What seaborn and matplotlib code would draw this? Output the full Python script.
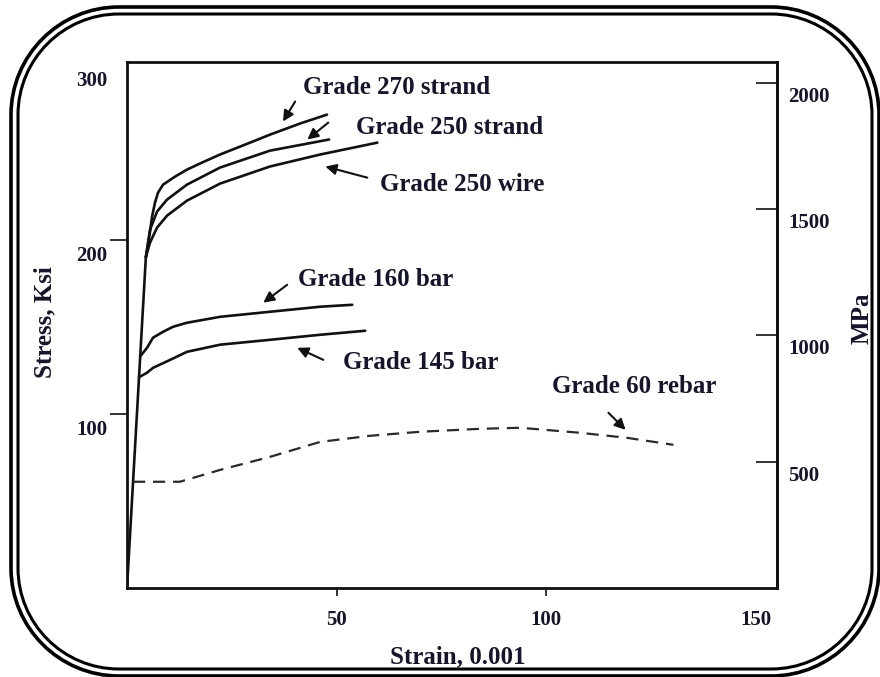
import matplotlib
matplotlib.use("Agg")
import matplotlib.pyplot as plt
from matplotlib.patches import PathPatch
from matplotlib.path import Path
from matplotlib.transforms import ScaledTranslation
import pandas as pd
import seaborn as sns

# Strain in units of 0.001, stress in ksi
elastic_strain = [0.0, 4.5]
elastic_stress = [0.0, 190.0]

g270_strand_strain = [4.5, 5.49, 5.97, 6.68, 7.4, 8.6, 11.46, 14.3, 17.4, 22.2, 28.2, 34.1, 41.3, 47.7]
g270_strand_stress = [190.0, 204.6, 213.2, 221.3, 227.0, 231.6, 236.2, 240.2, 243.7, 248.9, 254.6, 260.3, 266.7, 271.8]

g250_strand_strain = [4.5, 5.49, 7.16, 9.55, 14.3, 22.2, 34.1, 48.2]
g250_strand_stress = [190.0, 205.7, 216.1, 223.0, 231.6, 241.4, 251.1, 257.5]

g250_wire_strain = [4.5, 5.49, 7.16, 9.55, 14.3, 22.2, 34.1, 46.1, 59.7]
g250_wire_stress = [190.0, 198.3, 206.9, 213.8, 222.4, 232.2, 242.0, 248.9, 255.7]

g160_bar_strain = [3.15, 4.77, 6.2, 8.6, 11.0, 14.3, 22.2, 34.1, 46.1, 53.7]
g160_bar_stress = [133.0, 137.9, 143.7, 147.1, 150.0, 152.3, 155.7, 158.6, 161.5, 162.6]

g145_bar_strain = [2.86, 4.77, 6.2, 10.3, 14.3, 22.2, 34.1, 46.1, 56.8]
g145_bar_stress = [121.0, 123.6, 126.4, 131.0, 135.6, 139.7, 142.5, 145.4, 147.7]

g60_rebar_strain = [1.43, 12.6, 22.2, 34.1, 46.1, 58.0, 69.9, 84.2, 93.8, 108.1, 119.3, 130.3]
g60_rebar_stress = [61.0, 61.0, 67.8, 75.3, 83.9, 87.4, 89.7, 91.4, 92.0, 89.1, 86.2, 82.2]

x_ticks = [50, 100, 150]
ksi_ticks = [100, 200, 300]
mpa_ticks = [500, 1000, 1500, 2000]
MPA_PER_KSI = 6.895

# label text, text anchor (left, centre), arrow tail, arrow head
annotations = [
    ("Grade 270 strand", (42.0, 287.4), (40.1, 279.3), (37.2, 267.8)),
    ("Grade 250 strand", (54.7, 264.4), (48.0, 267.2), (43.0, 257.5)),
    ("Grade 250 wire", (60.4, 231.6), (57.3, 235.6), (47.3, 242.0)),
    ("Grade 160 bar", (40.8, 177.0), (38.2, 174.1), (32.5, 163.8)),
    ("Grade 145 bar", (51.6, 129.3), (46.8, 131.0), (40.6, 137.9)),
    ("Grade 60 rebar", (101.4, 115.5), (114.8, 100.6), (118.9, 90.8)),
]

sns.set_theme(style="white")
plt.rcParams["font.family"] = ["Liberation Serif", "DejaVu Serif"]
plt.rcParams["font.weight"] = "bold"

TEXT = "#15152b"
INK = "#111111"

fig = plt.figure(figsize=(8.8, 6.77), dpi=100)
ax = fig.add_axes([127 / 880, 89 / 677, 650 / 880, 526 / 677])

solid = [
    (elastic_strain, elastic_stress),
    (g270_strand_strain, g270_strand_stress),
    (g250_strand_strain, g250_strand_stress),
    (g250_wire_strain, g250_wire_stress),
    (g160_bar_strain, g160_bar_stress),
    (g145_bar_strain, g145_bar_stress),
]
for xs, ys in solid:
    df = pd.DataFrame({"strain": xs, "stress": ys})
    sns.lineplot(data=df, x="strain", y="stress", ax=ax, color=INK,
                 lw=1.9, sort=False, estimator=None)

rebar = pd.DataFrame({"strain": g60_rebar_strain, "stress": g60_rebar_stress})
sns.lineplot(data=rebar, x="strain", y="stress", ax=ax, color="#2a2a2a",
             lw=1.6, sort=False, estimator=None)
ax.lines[-1].set_dashes((5.5, 3.5))

ax.set_xlim(0, 155)
ax.set_ylim(0, 302)

for spine in ax.spines.values():
    spine.set_visible(True)
    spine.set_color(INK)
    spine.set_linewidth(2.0)

ax.set_xticks(x_ticks, [str(v) for v in x_ticks])
ax.set_yticks(ksi_ticks, [str(v) for v in ksi_ticks], va="top")
ax.tick_params(axis="x", direction="out", length=6, width=1.2, color=INK,
               labelsize=15, labelcolor=TEXT, pad=10, bottom=True)
ax.tick_params(axis="y", direction="out", length=12, width=1.2, color=INK,
               labelsize=15, labelcolor=TEXT, pad=2, left=True)
ax.xaxis.get_major_ticks()[-1].tick1line.set_visible(False)
ax.yaxis.get_major_ticks()[-1].tick1line.set_visible(False)

sec = ax.secondary_yaxis("right", functions=(lambda k: k * MPA_PER_KSI,
                                             lambda m: m / MPA_PER_KSI))
sec.set_yticks(mpa_ticks, [str(v) for v in mpa_ticks], va="top")
sec.tick_params(axis="y", direction="in", length=15, width=1.2, color=INK,
                labelsize=15, labelcolor=TEXT, pad=8)
sec.spines["right"].set_linewidth(2.0)
sec.spines["right"].set_color(INK)

# nudge the value labels a little below their ticks
shift_left = ScaledTranslation(0, -0.06, fig.dpi_scale_trans)
for lab in ax.get_yticklabels():
    lab.set_transform(lab.get_transform() + shift_left)
shift_right = ScaledTranslation(0, -0.04, fig.dpi_scale_trans)
for lab in sec.get_yticklabels():
    lab.set_transform(lab.get_transform() + shift_right)

ax.set_xlabel("")
ax.set_ylabel("")
fig.text(458 / 880, 1 - 657 / 677, "Strain, 0.001", fontsize=18, color=TEXT,
         fontweight="bold", ha="center", va="center")
fig.text(45 / 880, 1 - 322 / 677, "Stress, Ksi", fontsize=18, color=TEXT,
         fontweight="bold", ha="center", va="center", rotation=90)
fig.text(862 / 880, 1 - 318 / 677, "MPa", fontsize=18, color=TEXT,
         fontweight="bold", ha="center", va="center", rotation=90)

for text, anchor, tail, head in annotations:
    ax.text(anchor[0], anchor[1], text, fontsize=18, color=TEXT,
            fontweight="bold", ha="left", va="center")
    ax.annotate("", xy=head, xytext=tail,
                arrowprops=dict(arrowstyle="-|>", color=INK, lw=1.5,
                                mutation_scale=16, shrinkA=0, shrinkB=0))


def rounded_rect(x0, y0, x1, y1, r):
    """Closed path of a rectangle with circular-arc corners (inches)."""
    k = 0.5523 * r
    verts = [
        (x0 + r, y0), (x1 - r, y0),
        (x1 - r + k, y0), (x1, y0 + r - k), (x1, y0 + r),
        (x1, y1 - r),
        (x1, y1 - r + k), (x1 - r + k, y1), (x1 - r, y1),
        (x0 + r, y1),
        (x0 + r - k, y1), (x0, y1 - r + k), (x0, y1 - r),
        (x0, y0 + r),
        (x0, y0 + r - k), (x0 + r - k, y0), (x0 + r, y0),
    ]
    codes = ([Path.MOVETO, Path.LINETO] + [Path.CURVE4] * 3 + [Path.LINETO]
             + [Path.CURVE4] * 3 + [Path.LINETO] + [Path.CURVE4] * 3
             + [Path.LINETO] + [Path.CURVE4] * 3)
    return Path(verts, codes)


# double rounded page border
for (px0, py0, px1, py1, r, lw) in [(11, 7, 879, 676, 1.08, 2.6),
                                    (18, 14, 872, 669, 1.01, 2.2)]:
    path = rounded_rect(px0 / 100, (677 - py1) / 100, px1 / 100,
                        (677 - py0) / 100, r)
    fig.add_artist(PathPatch(path, transform=fig.dpi_scale_trans, fill=False,
                             ec="black", lw=lw))

fig.savefig("out.png", dpi=100, facecolor="white")
